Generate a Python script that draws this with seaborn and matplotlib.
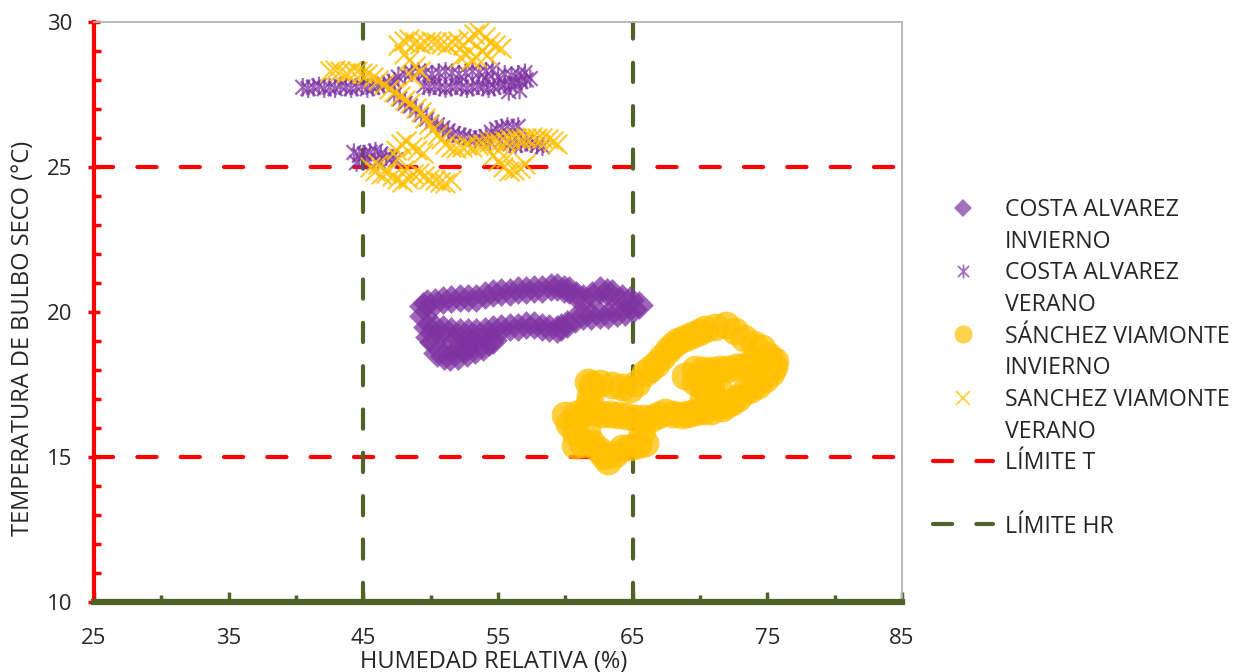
import matplotlib
matplotlib.use('Agg')
import numpy as np
import pandas as pd
import matplotlib.pyplot as plt
import seaborn as sns
from matplotlib.lines import Line2D
from matplotlib.path import Path

# COSTA ALVAREZ - INVIERNO (HR %, T °C), read along the loop
ca_inv_hr = [49.4, 49.7, 50.3, 50.9, 51.5, 52.2, 52.8, 53.4, 54.0, 54.6, 55.2, 55.9, 56.5, 57.1, 57.7, 58.3,
             58.9, 59.4, 59.9, 60.3, 60.8, 61.3, 62.0, 62.6, 63.1, 63.5, 64.2, 64.8, 65.5,
             65.0, 64.4, 63.8, 63.2, 62.6, 61.9, 61.3, 60.7, 60.1, 59.7, 59.4, 58.8, 58.3, 57.7, 57.1, 56.5,
             55.9, 55.2, 54.6, 54.0, 53.4, 52.8, 52.2, 51.5, 50.9, 50.3, 49.7, 49.4,
             49.9, 50.2, 50.5, 51.0, 51.4, 52.0, 52.7, 53.3, 53.9, 54.3, 54.6, 51.7, 53.1, 52.4]
ca_inv_t = [20.2, 20.3, 20.35, 20.4, 20.45, 20.5, 20.5, 20.5, 20.6, 20.65, 20.7, 20.7, 20.75, 20.75, 20.8, 20.8,
            20.85, 20.85, 20.8, 20.75, 20.6, 20.5, 20.6, 20.75, 20.7, 20.65, 20.5, 20.4, 20.25,
            20.1, 20.0, 19.95, 19.9, 19.9, 19.85, 19.85, 19.75, 19.6, 19.5, 19.4, 19.45, 19.5, 19.55, 19.55, 19.5,
            19.5, 19.45, 19.4, 19.35, 19.3, 19.3, 19.3, 19.35, 19.4, 19.45, 19.5, 19.85,
            19.15, 18.95, 18.6, 18.5, 18.45, 18.5, 18.6, 18.7, 18.8, 18.95, 19.05, 18.95, 18.95, 18.8]

# COSTA ALVAREZ - VERANO
ca_ver_hr = [40.5, 40.9, 41.3, 41.7, 42.1, 42.5, 42.9, 43.3, 43.7, 44.1, 44.5, 44.9, 45.3, 45.7, 46.1, 46.5, 46.9, 47.3,
             47.6, 48.1, 48.6, 49.1, 49.6, 50.1, 50.6, 51.1, 51.6, 52.1, 52.6, 53.1, 53.6, 54.1, 54.6,
             49.5, 49.9, 50.3, 50.7, 51.1, 51.5, 51.9, 52.3, 52.7, 53.1, 53.5, 53.9, 54.3, 54.7, 55.1, 55.5,
             55.9, 56.3, 56.7, 57.1, 57.4,
             55.0, 55.5, 56.0, 56.5, 57.0, 55.8, 56.6, 54.2,
             47.3, 47.7, 48.1, 48.5, 48.9, 49.3, 49.7, 50.1, 50.5, 50.9, 51.3, 51.7, 52.1, 52.5, 52.9, 53.3,
             53.7, 54.1, 54.5, 54.9, 55.3, 55.7, 56.1, 56.5,
             55.9, 56.3, 56.7, 57.1, 57.5, 57.9, 58.3, 55.2, 54.4,
             44.3, 44.7, 45.1, 45.5, 45.9, 46.3, 46.7, 47.1, 47.4, 44.5, 45.3, 46.1]
ca_ver_t = [27.75, 27.7, 27.75, 27.8, 27.7, 27.75, 27.7, 27.8, 27.75, 27.7, 27.75, 27.8, 27.7, 27.75, 27.8, 27.85, 27.9, 27.95,
            28.1, 28.2, 28.25, 28.3, 28.25, 28.2, 28.25, 28.3, 28.25, 28.2, 28.25, 28.3, 28.25, 28.3, 28.35,
            27.8, 27.75, 27.8, 27.75, 27.7, 27.75, 27.8, 27.75, 27.7, 27.75, 27.8, 27.75, 27.7, 27.75, 27.8, 27.85,
            27.8, 27.9, 27.95, 28.0, 28.05,
            28.1, 28.2, 28.15, 28.2, 28.25, 27.6, 27.65, 28.0,
            27.5, 27.35, 27.2, 27.1, 26.95, 26.8, 26.65, 26.55, 26.45, 26.35, 26.25, 26.15, 26.1, 26.05, 26.0, 25.95,
            26.0, 26.05, 26.2, 26.3, 26.35, 26.4, 26.35, 26.4,
            25.8, 25.75, 25.8, 25.85, 25.8, 25.75, 25.7, 25.9, 25.85,
            25.5, 25.4, 25.45, 25.5, 25.55, 25.45, 25.35, 25.3, 25.25, 25.15, 25.2, 25.2]

# SÁNCHEZ VIAMONTE - INVIERNO
sv_inv_hr = [61.7, 62.0, 62.6, 63.5, 64.2, 64.8, 65.3, 65.9, 66.3, 66.7, 67.2, 67.6, 68.0, 68.4, 68.9, 69.4,
             69.9, 70.4, 71.1, 71.9, 72.6, 73.3, 74.0, 74.6, 75.1, 75.6, 75.5, 75.3, 74.8, 74.3, 73.8, 73.3,
             72.8, 72.4, 71.9, 71.6,
             68.9, 69.6, 70.2, 70.9, 71.5, 72.1, 72.7, 73.3, 73.8, 74.3, 70.2, 70.8, 71.3, 70.2, 70.9, 69.6,
             70.8, 70.2, 69.6, 69.1, 68.7, 68.0, 67.4, 66.9, 66.4, 65.8, 65.2, 64.5, 63.9, 63.3, 62.7, 62.1,
             61.5, 60.8, 60.0,
             60.3, 60.7, 60.7, 61.3, 62.0, 62.5, 62.9, 63.2, 63.7, 64.2, 64.8, 65.4, 65.9, 65.7, 61.6,
             61.7, 61.8]
sv_inv_t = [17.6, 17.5, 17.55, 17.5, 17.4, 17.35, 17.55, 17.9, 18.05, 18.2, 18.45, 18.7, 18.85, 19.0, 19.1, 19.2,
            19.3, 19.4, 19.5, 19.55, 19.35, 19.1, 18.9, 18.75, 18.5, 18.3, 18.1, 17.9, 17.7, 17.5, 17.35, 17.25,
            17.05, 16.9, 16.8, 16.7,
            17.8, 18.05, 18.0, 18.0, 18.05, 18.05, 18.1, 18.15, 18.2, 18.3, 17.4, 17.4, 17.4, 17.05, 17.1, 17.6,
            16.6, 16.6, 16.55, 16.5, 16.45, 16.5, 16.55, 16.45, 16.35, 16.35, 16.35, 16.4, 16.45, 16.5, 16.5, 16.55,
            16.55, 16.5, 16.45,
            16.15, 15.85, 15.4, 15.45, 15.5, 15.25, 15.05, 14.85, 15.1, 15.3, 15.35, 15.4, 15.5, 15.85, 15.9,
            16.8, 17.1]

# SANCHEZ VIAMONTE - VERANO
sv_ver_hr = [47.6, 48.0, 48.4, 48.8, 49.2, 49.6, 50.0, 50.4, 50.8, 51.2, 51.6, 52.0, 52.4, 52.8, 53.2, 53.6,
             54.0, 54.4, 54.8, 55.2, 52.6, 53.0, 53.4, 53.8, 54.2, 52.2, 48.0, 48.4, 48.8, 49.2, 48.6,
             42.5, 42.9, 43.3, 43.7, 44.1, 44.5, 44.9, 45.3,
             45.7, 46.1, 46.5, 46.9, 47.3, 47.7, 48.1, 48.5, 48.9, 49.3, 49.6, 49.9, 50.2, 50.5, 50.8, 51.1,
             51.5, 51.9, 52.3, 52.7, 53.1, 53.5, 53.9, 54.3, 54.7, 55.1, 55.5, 55.9, 56.3, 56.7, 57.1, 57.5,
             57.9, 58.3, 58.7, 59.1, 59.4,
             47.4, 47.8, 48.2, 48.6, 49.0, 49.4, 47.6,
             45.5, 45.9, 46.3, 46.7, 47.1, 47.5, 47.9, 48.3, 48.7, 49.1, 49.5, 49.9, 50.3, 50.7, 51.1, 51.5,
             46.1, 48.0,
             54.6, 55.0, 55.4, 55.8, 56.2, 56.6, 57.0, 55.6]
sv_ver_t = [29.2, 29.35, 29.4, 29.3, 29.25, 29.3, 29.35, 29.3, 29.25, 29.2, 29.3, 29.35, 29.2, 29.4, 29.6, 29.65,
            29.5, 29.3, 29.2, 29.1, 28.9, 28.7, 28.8, 29.0, 28.85, 28.8, 28.9, 28.7, 28.5, 28.3, 28.1,
            28.3, 28.35, 28.3, 28.25, 28.3, 28.3, 28.25, 28.2,
            28.1, 28.0, 27.85, 27.7, 27.6, 27.45, 27.3, 27.2, 27.05, 26.9, 26.7, 26.5, 26.3, 26.1, 25.95, 25.8,
            25.7, 25.65, 25.7, 25.75, 25.7, 25.75, 25.8, 25.85, 25.9, 25.85, 25.9, 25.95, 26.0, 25.95, 26.0, 26.05,
            26.0, 26.0, 25.95, 25.9, 25.8,
            25.6, 25.8, 25.9, 25.7, 25.6, 25.5, 25.3,
            25.0, 24.85, 24.75, 24.8, 24.7, 24.6, 24.5, 24.6, 24.75, 24.8, 24.7, 24.6, 24.55, 24.5, 24.45, 24.55,
            25.1, 24.9,
            25.4, 25.2, 25.0, 24.85, 24.9, 24.95, 25.1, 25.3]

# limits
lim_t = [15, 25]
lim_hr = [45, 65]

x_major = [25, 35, 45, 55, 65, 75, 85]
y_major = [10, 15, 20, 25, 30]

PURPLE = '#7E32A2'
YELLOW = '#FFC000'
RED = '#FF0000'
GREEN = '#4F6228'
TXT = '#262626'

sns.set_theme(style='white')
plt.rcParams['font.family'] = ['Open Sans', 'DejaVu Sans']

fig = plt.figure(figsize=(12.45, 6.72), dpi=100)
ax = fig.add_axes([94 / 1245, 1 - 602 / 672, (902 - 94) / 1245, (602 - 22) / 672])

# x with a vertical bar, like the Excel star marker
star = Path([(-1, -1), (1, 1), (-1, 1), (1, -1), (0, -1.25), (0, 1.25)],
            [Path.MOVETO, Path.LINETO, Path.MOVETO, Path.LINETO, Path.MOVETO, Path.LINETO])

dash = (4.6, 5.8)
for t in lim_t:
    ax.plot([25, 85.3], [t, t], color=RED, lw=3, dashes=dash, dash_capstyle='round',
            zorder=2, clip_on=False)
for h in lim_hr:
    ax.plot([h, h], [10, 30], color=GREEN, lw=3, dashes=dash, dash_capstyle='round', zorder=2)

df_ca_inv = pd.DataFrame({'hr': ca_inv_hr, 't': ca_inv_t})
df_ca_ver = pd.DataFrame({'hr': ca_ver_hr, 't': ca_ver_t})
df_sv_inv = pd.DataFrame({'hr': sv_inv_hr, 't': sv_inv_t})
df_sv_ver = pd.DataFrame({'hr': sv_ver_hr, 't': sv_ver_t})

sns.scatterplot(data=df_ca_inv, x='hr', y='t', ax=ax, marker='D', s=215,
                color=PURPLE, alpha=0.75, linewidth=0, zorder=3)
sns.scatterplot(data=df_ca_ver, x='hr', y='t', ax=ax, marker=star, s=175,
                facecolor='none', edgecolor=PURPLE, alpha=0.75, linewidth=1.6, zorder=3)
sns.scatterplot(data=df_sv_inv, x='hr', y='t', ax=ax, marker='o', s=400,
                color=YELLOW, alpha=0.75, linewidth=0, zorder=3)
sns.scatterplot(data=df_sv_ver, x='hr', y='t', ax=ax, marker='x', s=200,
                color=YELLOW, alpha=0.8, linewidth=1.6, zorder=3)

ax.set_xlim(25, 85)
ax.set_ylim(10, 30)
ax.set_xticks(x_major)
ax.set_xticks(np.arange(30, 85, 10), minor=True)
ax.set_yticks(y_major)
ax.set_yticks(np.arange(10, 31, 1), minor=True)

ax.tick_params(axis='y', which='major', direction='inout', length=9, width=2.5, color=RED,
               left=True, labelsize=16, labelcolor=TXT, pad=11)
ax.tick_params(axis='y', which='minor', direction='in', length=5, width=2.5, color=RED, left=True)
ax.tick_params(axis='x', which='major', direction='in', length=7, width=2.5, color=GREEN,
               bottom=True, labelsize=16, labelcolor=TXT, pad=19)
ax.tick_params(axis='x', which='minor', direction='in', length=5, width=2.5, color=GREEN, bottom=True)

ax.spines['left'].set_color(RED)
ax.spines['left'].set_linewidth(3)
ax.spines['bottom'].set_color(GREEN)
ax.spines['bottom'].set_linewidth(4.5)
ax.spines['bottom'].set_zorder(4)
for side in ['top', 'right']:
    ax.spines[side].set_color('#b4b4b4')
    ax.spines[side].set_linewidth(1.3)

ax.set_xlabel('HUMEDAD RELATIVA (%)', fontsize=17, color=TXT, va='top')
ax.set_ylabel('TEMPERATURA DE BULBO SECO (°C)', fontsize=17, color=TXT)
ax.xaxis.set_label_coords(0.494, -0.083)
ax.yaxis.set_label_coords(-0.073, 0.454)

handles = [
    Line2D([], [], ls='none', marker='D', markersize=9, color=PURPLE, alpha=0.7, mew=0),
    Line2D([], [], ls='none'),
    Line2D([], [], ls='none', marker=star, markersize=10, markerfacecolor='none',
           markeredgecolor=PURPLE, alpha=0.7, mew=1.3),
    Line2D([], [], ls='none'),
    Line2D([], [], ls='none', marker='o', markersize=13, color=YELLOW, alpha=0.7, mew=0),
    Line2D([], [], ls='none'),
    Line2D([], [], ls='none', marker='x', markersize=10, color=YELLOW, alpha=0.75, mew=1.3),
    Line2D([], [], ls='none'),
    Line2D([], [], color=RED, lw=3, dashes=dash, dash_capstyle='round'),
    Line2D([], [], ls='none'),
    Line2D([], [], color=GREEN, lw=3, dashes=dash, dash_capstyle='round'),
]
labels = ['COSTA ALVAREZ', 'INVIERNO', 'COSTA ALVAREZ', 'VERANO',
          'SÁNCHEZ VIAMONTE', 'INVIERNO', 'SANCHEZ VIAMONTE', 'VERANO',
          'LÍMITE T', '', 'LÍMITE HR']
leg = fig.legend(handles, labels, loc='upper left', bbox_to_anchor=(933 / 1245, 1 - 198 / 672),
                 frameon=False, fontsize=16.7, labelspacing=0.33, handlelength=2.6,
                 handletextpad=0.5, borderpad=0, borderaxespad=0)
for txt in leg.get_texts():
    txt.set_color(TXT)

fig.savefig('out.png', dpi=100)
